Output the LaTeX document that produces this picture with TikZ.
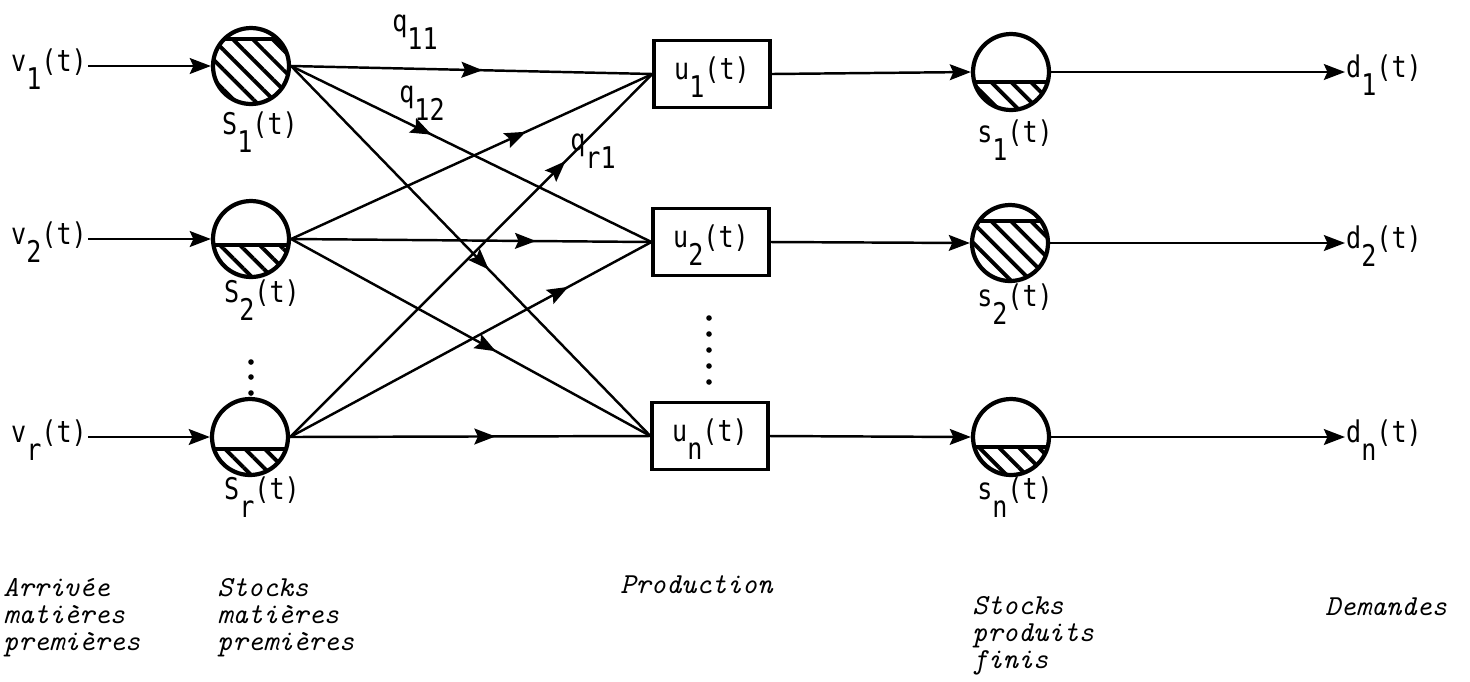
\documentclass[tikz,border=0pt]{standalone}
\usepackage{fontspec}
\newfontfamily\tapefont[FakeStretch=0.84]{DejaVu Sans Mono}
\usetikzlibrary{arrows.meta,decorations.markings,patterns.meta}

% typewriter subscript: full size, lowered
\newcommand{\ix}[1]{\raisebox{-0.6em}{#1}}
% hatched level inside a stock circle
\newcommand{\hatch}[2]{%
  \begin{scope}
    \clip (#1.center) circle (0.74cm);
    \fill[pattern={Lines[angle=-45,distance=8pt,line width=2.2pt]}]
      ([shift={(-1cm,#2)}]#1.center) rectangle ([shift={(1cm,-1cm)}]#1.center);
    \draw[line width=1.8pt] ([shift={(-1cm,#2)}]#1.center) -- ([shift={(1cm,#2)}]#1.center);
  \end{scope}}

\tikzset{
  flowtip/.tip={Stealth[length=12pt,width=9pt,inset=2pt]},
  stock/.style={circle,draw,line width=2.4pt,minimum size=1.52cm,inner sep=0pt},
  unit/.style={rectangle,draw,line width=1.8pt,minimum width=2.32cm,minimum height=1.34cm,inner sep=0pt,
    text height=0.64em,text depth=0pt,font=\tapefont\fontsize{17}{17}\selectfont},
  lbl/.style={inner sep=0.5pt,text height=0.64em,text depth=0pt,font=\tapefont\fontsize{17}{17}\selectfont},
  note/.style={inner sep=0pt,align=left,anchor=north west,font=\ttfamily\itshape\fontsize{16.5}{15.5}\selectfont},
  link/.style={line width=1.4pt},
  flow/.style={link,postaction={decorate},decoration={markings,mark=at position #1 with {\arrow{flowtip}}}},
}

\begin{document}
\begin{tikzpicture}[x=0.02cm,y=-0.02cm]
\useasboundingbox (0,0) rectangle (1470,681);
% stocks matieres premieres
\node[stock] (S1) at (251,66) {};
\node[stock] (S2) at (251,239) {};
\node[stock] (Sr) at (250,437) {};
% production
\node[unit] (u1) at (712,74) {u\ix{1}(t)};
\node[unit] (u2) at (711,242) {u\ix{2}(t)};
\node[unit] (un) at (710,436) {u\ix{n}(t)};
% stocks produits finis
\node[stock] (s1) at (1011,72) {};
\node[stock] (s2) at (1010,243) {};
\node[stock] (sn) at (1011,437) {};
\hatch{S1}{0.54cm}
\hatch{S2}{-0.12cm}
\hatch{Sr}{-0.24cm}
\hatch{s1}{-0.2cm}
\hatch{s2}{0.44cm}
\hatch{sn}{-0.2cm}

% arrivees
\node[lbl,anchor=east] (v1) at (88,66) {v\ix{1}(t)};
\node[lbl,anchor=east] (v2) at (88,239) {v\ix{2}(t)};
\node[lbl,anchor=east] (vr) at (88,437) {v\ix{r}(t)};
% demandes
\node[lbl,anchor=west] (d1) at (1345,72) {d\ix{1}(t)};
\node[lbl,anchor=west] (d2) at (1345,243) {d\ix{2}(t)};
\node[lbl,anchor=west] (dn) at (1345,437) {d\ix{n}(t)};

\foreach \a/\b in {v1/S1,v2/S2,vr/Sr,u1/s1,u2/s2,un/sn,s1/d1,s2/d2,sn/dn}
  \draw[link,-flowtip] (\a.east) -- (\b.west);
\foreach \a/\b/\p in {S1/u1/0.53,S1/u2/0.39,S1/un/0.55,S2/u1/0.65,S2/u2/0.68,S2/un/0.57,Sr/u1/0.76,Sr/u2/0.77,Sr/un/0.57}
  \draw[flow=\p] (\a.east) -- (\b.west);

% etiquettes
\node[lbl] (S1t) at (260,129) {S\ix{1}(t)};
\node[lbl] (S2t) at (262,297) {S\ix{2}(t)};
\node[lbl] (Srt) at (262,494) {S\ix{r}(t)};
\node[lbl] (s1t) at (1015,137) {s\ix{1}(t)};
\node[lbl] (s2t) at (1015,301) {s\ix{2}(t)};
\node[lbl] (snt) at (1015,494) {s\ix{n}(t)};
\node[lbl] (q11) at (415,26) {q\ix{11}};
\node[lbl] (q12) at (422,97) {q\ix{12}};
\node[lbl] (qr1) at (593,145) {q\ix{r1}};

\foreach \y in {362,377,393}
  \fill (251,\y) circle (2.8);
\foreach \y in {318,334,350,366,382}
  \fill (709,\y) circle (2.8);

\node[note] (arr) at (3,578) {Arrivée\\matières\\premières};
\node[note] (smp) at (217,578) {Stocks\\matières\\premières};
\node[note] (prod) at (620,575) {Production};
\node[note] (spf) at (972,596) {Stocks\\produits\\finis};
\node[note] (dem) at (1325,597) {Demandes};
\end{tikzpicture}
\end{document}
